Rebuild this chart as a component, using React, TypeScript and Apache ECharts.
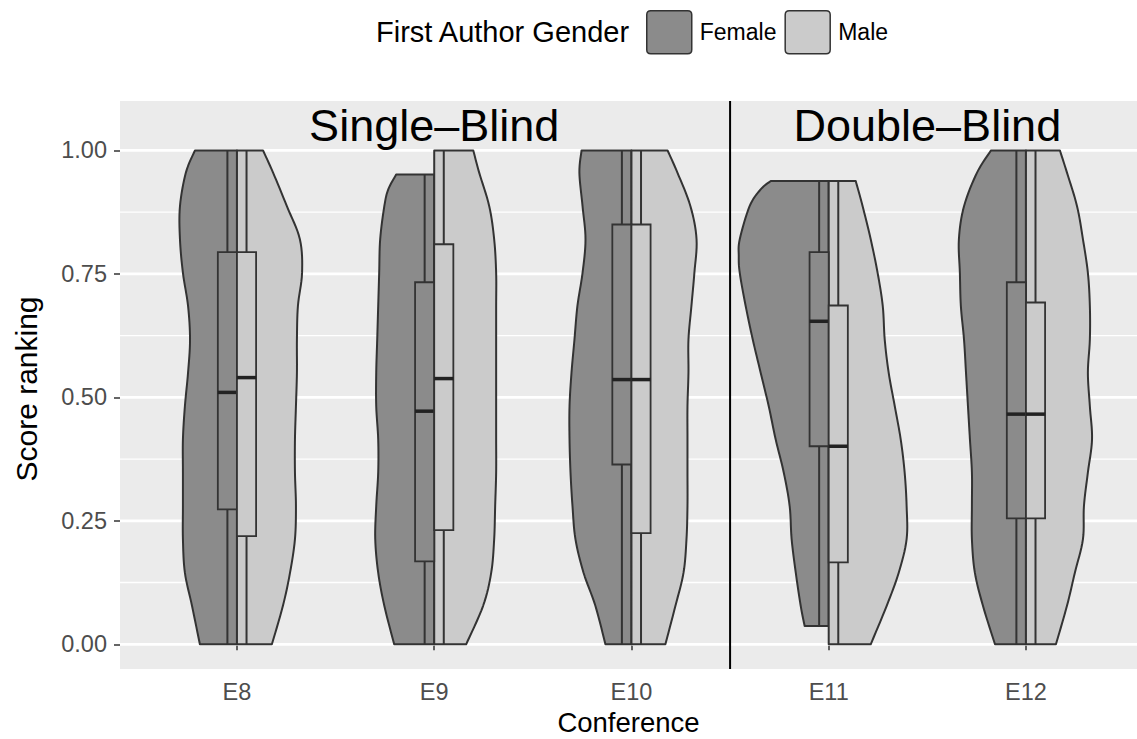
import React, { useEffect, useRef } from 'react';
import * as echarts from 'echarts';

// ---------- data ----------
const conferences = ['E8', 'E9', 'E10', 'E11', 'E12'];

// violin outlines: [score, half-width in category units], top to bottom
const femaleE8 = [[1.0, 0.213], [0.955, 0.259], [0.887, 0.289], [0.82, 0.289], [0.752, 0.274], [0.685, 0.248], [0.617, 0.238], [0.55, 0.248], [0.482, 0.264], [0.415, 0.274], [0.348, 0.274], [0.28, 0.274], [0.213, 0.274], [0.145, 0.264], [0.078, 0.228], [0.0, 0.188]];
const maleE8 = [[1.0, 0.132], [0.955, 0.183], [0.887, 0.253], [0.82, 0.319], [0.752, 0.33], [0.685, 0.309], [0.617, 0.304], [0.55, 0.304], [0.482, 0.299], [0.415, 0.294], [0.348, 0.294], [0.28, 0.299], [0.213, 0.294], [0.145, 0.269], [0.078, 0.233], [0.0, 0.177]];
const femaleE9 = [[0.951, 0.193], [0.921, 0.233], [0.887, 0.253], [0.82, 0.274], [0.752, 0.279], [0.685, 0.284], [0.617, 0.289], [0.55, 0.294], [0.482, 0.294], [0.415, 0.284], [0.348, 0.284], [0.28, 0.294], [0.213, 0.299], [0.145, 0.284], [0.078, 0.253], [0.0, 0.203]];
const maleE9 = [[1.0, 0.198], [0.955, 0.228], [0.887, 0.279], [0.82, 0.304], [0.752, 0.314], [0.685, 0.314], [0.617, 0.314], [0.55, 0.314], [0.482, 0.314], [0.415, 0.314], [0.348, 0.314], [0.28, 0.309], [0.213, 0.304], [0.145, 0.289], [0.078, 0.248], [0.0, 0.162]];
const femaleE10 = [[1.0, 0.253], [0.955, 0.264], [0.887, 0.248], [0.82, 0.233], [0.752, 0.248], [0.685, 0.274], [0.617, 0.289], [0.55, 0.304], [0.482, 0.314], [0.415, 0.314], [0.348, 0.309], [0.28, 0.299], [0.213, 0.284], [0.145, 0.243], [0.078, 0.183], [0.0, 0.132]];
const maleE10 = [[1.0, 0.183], [0.955, 0.233], [0.887, 0.299], [0.82, 0.33], [0.752, 0.319], [0.685, 0.304], [0.617, 0.289], [0.55, 0.289], [0.482, 0.284], [0.415, 0.284], [0.348, 0.284], [0.28, 0.284], [0.213, 0.279], [0.145, 0.264], [0.078, 0.223], [0.0, 0.172]];
const femaleE11 = [[0.938, 0.294], [0.921, 0.345], [0.887, 0.401], [0.82, 0.451], [0.786, 0.456], [0.752, 0.451], [0.685, 0.421], [0.617, 0.385], [0.55, 0.345], [0.482, 0.304], [0.415, 0.269], [0.348, 0.228], [0.28, 0.198], [0.213, 0.188], [0.145, 0.167], [0.078, 0.142], [0.037, 0.122]];
const maleE11 = [[0.938, 0.137], [0.887, 0.172], [0.82, 0.213], [0.752, 0.248], [0.685, 0.274], [0.617, 0.284], [0.55, 0.304], [0.482, 0.335], [0.415, 0.365], [0.348, 0.385], [0.28, 0.395], [0.213, 0.395], [0.145, 0.355], [0.078, 0.294], [0.0, 0.213]];
const femaleE12 = [[1.0, 0.177], [0.955, 0.248], [0.887, 0.314], [0.82, 0.34], [0.752, 0.335], [0.685, 0.33], [0.617, 0.314], [0.55, 0.304], [0.482, 0.294], [0.415, 0.284], [0.348, 0.274], [0.28, 0.274], [0.213, 0.274], [0.145, 0.259], [0.078, 0.218], [0.0, 0.157]];
const maleE12 = [[1.0, 0.172], [0.955, 0.208], [0.887, 0.259], [0.82, 0.289], [0.752, 0.314], [0.685, 0.324], [0.617, 0.324], [0.55, 0.314], [0.482, 0.324], [0.415, 0.335], [0.348, 0.314], [0.28, 0.294], [0.213, 0.289], [0.145, 0.248], [0.078, 0.208], [0.0, 0.152]];

const femaleViolins = [femaleE8, femaleE9, femaleE10, femaleE11, femaleE12];
const maleViolins = [maleE8, maleE9, maleE10, maleE11, maleE12];

// boxplot stats: [lower whisker, Q1, median, Q3, upper whisker]
const femaleBoxes = [
  [0.0, 0.273, 0.51, 0.794, 1.0],
  [0.0, 0.168, 0.472, 0.733, 0.951],
  [0.0, 0.364, 0.536, 0.85, 1.0],
  [0.037, 0.401, 0.654, 0.794, 0.938],
  [0.0, 0.255, 0.466, 0.733, 1.0],
];
const maleBoxes = [
  [0.0, 0.219, 0.54, 0.794, 1.0],
  [0.0, 0.231, 0.538, 0.81, 1.0],
  [0.0, 0.225, 0.536, 0.85, 1.0],
  [0.0, 0.166, 0.401, 0.686, 0.938],
  [0.0, 0.255, 0.466, 0.692, 1.0],
];

const yTicks = [0, 0.25, 0.5, 0.75, 1];
const yMinorLines = [0.125, 0.375, 0.625, 0.875];
const panelTitles = ['Single–Blind', 'Double–Blind'];
const panelTitleX = [2, 4.5];
const panelTitleY = 1.05;
const separatorX = 3.5;

// ---------- layout / style ----------
const FONT = '"Liberation Sans", Arial, Helvetica, sans-serif';
const X_MIN = 0.407;
const X_MAX = 5.563;
const Y_MIN = -0.05;
const Y_MAX = 1.1;
const BOX_W = 0.097;
const FEMALE_FILL = '#8b8b8b';
const MALE_FILL = '#cbcbcb';
const LINE = '#333333';
const KEY_ICON = 'path://M4,0 H41 Q45,0 45,4 V39 Q45,43 41,43 H4 Q0,43 0,39 V4 Q0,0 4,0 Z';

function catmullRom(pts: number[][], segs: number) {
  if (pts.length < 3) return pts;
  const out: number[][] = [];
  for (let i = 0; i < pts.length - 1; i++) {
    const p0 = pts[Math.max(i - 1, 0)];
    const p1 = pts[i];
    const p2 = pts[i + 1];
    const p3 = pts[Math.min(i + 2, pts.length - 1)];
    for (let s = 0; s < segs; s++) {
      const t = s / segs;
      const t2 = t * t;
      const t3 = t2 * t;
      const f = (a: number, b: number, c: number, d: number) =>
        0.5 * (2 * b + (-a + c) * t + (2 * a - 5 * b + 4 * c - d) * t2 + (-a + 3 * b - 3 * c + d) * t3);
      out.push([f(p0[0], p1[0], p2[0], p3[0]), f(p0[1], p1[1], p2[1], p3[1])]);
    }
  }
  out.push(pts[pts.length - 1]);
  return out;
}

function violinSeries(name: string, outlines: number[][][], side: number, fill: string) {
  return {
    type: 'custom',
    name,
    z: 3,
    silent: true,
    data: conferences.map((_, i) => [i + 1]),
    encode: { x: 0 },
    itemStyle: { color: fill, borderColor: LINE },
    renderItem: (params: any, api: any) => {
      const i = params.dataIndex;
      const cx = i + 1;
      const o = outlines[i];
      const outer = o.map(([y, w]) => api.coord([cx + side * w, y]));
      const pts = [api.coord([cx, o[0][0]]), ...catmullRom(outer, 8), api.coord([cx, o[o.length - 1][0]])];
      return {
        type: 'polygon',
        shape: { points: pts },
        style: { fill, stroke: LINE, lineWidth: 2, lineJoin: 'round' },
      };
    },
  };
}

function boxSeries(name: string, boxes: number[][], side: number, fill: string) {
  return {
    type: 'custom',
    name,
    z: 4,
    silent: true,
    data: conferences.map((_, i) => [i + 1]),
    encode: { x: 0 },
    itemStyle: { color: fill, borderColor: LINE },
    renderItem: (params: any, api: any) => {
      const i = params.dataIndex;
      const cx = i + 1;
      const [lo, q1, med, q3, hi] = boxes[i];
      const xa = cx + side * BOX_W;
      const x0 = Math.min(xa, cx);
      const x1 = Math.max(xa, cx);
      const wx = cx + (side * BOX_W) / 2;
      const w1 = api.coord([wx, lo]);
      const w2 = api.coord([wx, hi]);
      const tl = api.coord([x0, q3]);
      const br = api.coord([x1, q1]);
      const m0 = api.coord([x0, med]);
      const m1 = api.coord([x1, med]);
      return {
        type: 'group',
        children: [
          { type: 'line', shape: { x1: w1[0], y1: w1[1], x2: w2[0], y2: w2[1] }, style: { stroke: LINE, lineWidth: 2 } },
          {
            type: 'rect',
            shape: { x: tl[0], y: tl[1], width: br[0] - tl[0], height: br[1] - tl[1] },
            style: { fill, stroke: LINE, lineWidth: 1.8 },
          },
          { type: 'line', shape: { x1: m0[0], y1: m0[1], x2: m1[0], y2: m1[1] }, style: { stroke: '#222222', lineWidth: 3.5 } },
        ],
      };
    },
  };
}

export default function App() {
  const ref = useRef<HTMLDivElement>(null);

  useEffect(() => {
    if (!ref.current) return;
    const chart = echarts.init(ref.current, undefined, { renderer: 'svg' });
    const tickValues = conferences.map((_, i) => i + 1);

    const option: any = {
      animation: false,
      backgroundColor: '#ffffff',
      textStyle: { fontFamily: FONT },
      grid: {
        left: 120,
        top: 101,
        right: 0,
        bottom: 70,
        show: true,
        backgroundColor: '#ebebeb',
        borderWidth: 0,
        containLabel: false,
        outerBoundsMode: 'none',
      },
      legend: {
        data: [
          { name: 'Female', icon: KEY_ICON, itemStyle: { color: FEMALE_FILL, borderColor: LINE, borderWidth: 1.5 } },
          { name: 'Male', icon: KEY_ICON, itemStyle: { color: MALE_FILL, borderColor: LINE, borderWidth: 1.5 } },
        ],
        left: 641,
        top: 5,
        itemWidth: 45,
        itemHeight: 43,
        itemGap: 8,
        selectedMode: false,
        textStyle: { fontSize: 23, color: '#000000', fontFamily: FONT, padding: [0, 0, 0, 3] },
      },
      graphic: [
        {
          type: 'text',
          x: 376,
          y: 32,
          style: {
            text: 'First Author Gender',
            fill: '#000000',
            fontSize: 29,
            fontFamily: FONT,
            verticalAlign: 'middle',
          },
        },
      ],
      xAxis: {
        type: 'value',
        min: X_MIN,
        max: X_MAX,
        axisLine: { show: false },
        splitLine: { show: false },
        axisTick: { show: true, customValues: tickValues, length: 6, lineStyle: { color: LINE, width: 1.5 } },
        axisLabel: {
          customValues: tickValues,
          formatter: (v: number) => conferences[Math.round(v) - 1] ?? '',
          fontSize: 23.5,
          color: '#4d4d4d',
          margin: 11,
          fontFamily: FONT,
        },
        name: 'Conference',
        nameLocation: 'middle',
        nameGap: 37,
        nameTextStyle: { fontSize: 27.5, color: '#000000', fontFamily: FONT },
      },
      yAxis: {
        type: 'value',
        min: Y_MIN,
        max: Y_MAX,
        axisLine: { show: false },
        splitLine: { show: false },
        axisTick: { show: true, customValues: yTicks, length: 6, lineStyle: { color: LINE, width: 1.5 } },
        axisLabel: {
          customValues: yTicks,
          formatter: (v: number) => v.toFixed(2),
          fontSize: 23.5,
          color: '#4d4d4d',
          margin: 13,
          fontFamily: FONT,
        },
        name: 'Score ranking',
        nameLocation: 'middle',
        nameGap: 79,
        nameTextStyle: { fontSize: 30, color: '#000000', fontFamily: FONT, padding: [0, 8, 0, 0] },
      },
      series: [
        {
          type: 'custom',
          name: 'gridlines',
          z: 1,
          silent: true,
          data: [...yTicks.map((v) => [v, 1]), ...yMinorLines.map((v) => [v, 0])],
          encode: { y: 0 },
          renderItem: (params: any, api: any) => {
            const v = api.value(0);
            const major = api.value(1);
            const a = api.coord([X_MIN, v]);
            const b = api.coord([X_MAX, v]);
            return {
              type: 'line',
              shape: { x1: a[0], y1: a[1], x2: b[0], y2: b[1] },
              style: { stroke: '#ffffff', lineWidth: major ? 2.8 : 1.4 },
            };
          },
        },
        violinSeries('Female', femaleViolins, -1, FEMALE_FILL),
        violinSeries('Male', maleViolins, 1, MALE_FILL),
        boxSeries('Female', femaleBoxes, -1, FEMALE_FILL),
        boxSeries('Male', maleBoxes, 1, MALE_FILL),
        {
          type: 'custom',
          name: 'separator',
          z: 5,
          silent: true,
          data: [[separatorX]],
          encode: { x: 0 },
          renderItem: (params: any, api: any) => {
            const x = api.value(0);
            const a = api.coord([x, Y_MIN]);
            const b = api.coord([x, Y_MAX]);
            return {
              type: 'line',
              shape: { x1: a[0], y1: a[1], x2: b[0], y2: b[1] },
              style: { stroke: '#000000', lineWidth: 2 },
            };
          },
        },
        {
          type: 'custom',
          name: 'panelTitles',
          z: 6,
          silent: true,
          data: panelTitleX.map((x) => [x, panelTitleY]),
          encode: { x: 0, y: 1 },
          renderItem: (params: any, api: any) => {
            const p = api.coord([api.value(0), api.value(1)]);
            return {
              type: 'text',
              x: p[0],
              y: p[1],
              style: {
                text: panelTitles[params.dataIndex],
                fill: '#000000',
                fontSize: 45,
                fontFamily: FONT,
                align: 'center',
                verticalAlign: 'middle',
              },
            };
          },
        },
      ],
    };

    chart.setOption(option);
    return () => chart.dispose();
  }, []);

  return <div ref={ref} style={{ position: 'absolute', left: 0, top: 0, width: 1137, height: 739 }} />;
}
